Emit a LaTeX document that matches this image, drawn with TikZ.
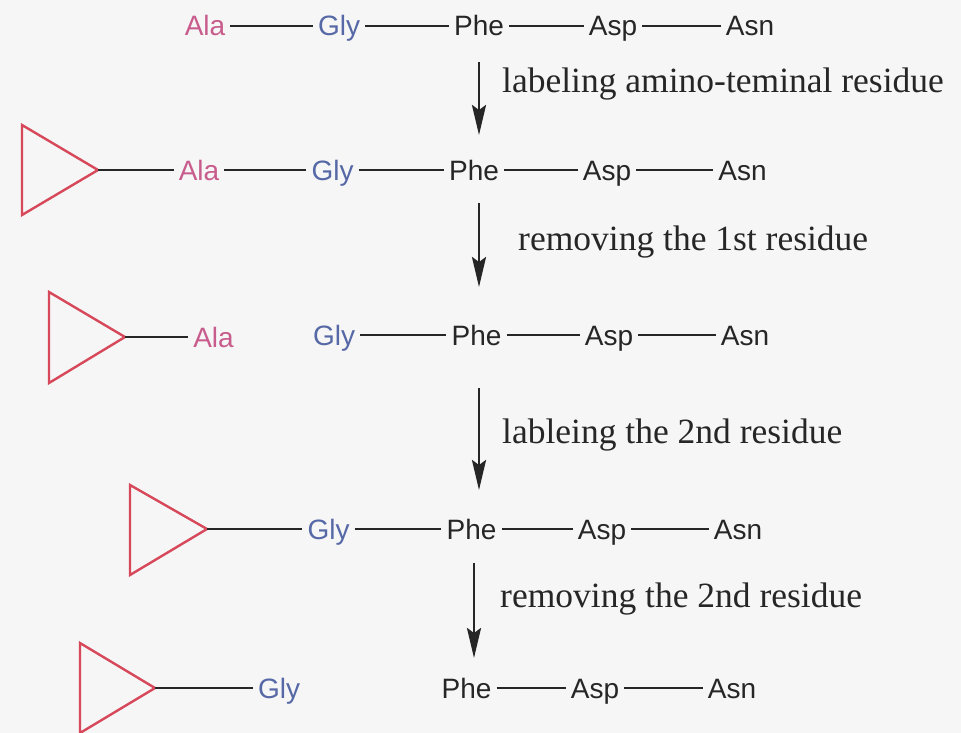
\documentclass[tikz,border=0pt]{standalone}
\usepackage{fontspec}
\setmainfont{Liberation Serif}
\newfontfamily\resfont{Liberation Sans}
\usetikzlibrary{arrows.meta}
\definecolor{bgcol}{RGB}{246,246,246}
\definecolor{alacol}{RGB}{200,92,140}
\definecolor{glycol}{RGB}{86,104,166}
\definecolor{inkcol}{RGB}{38,38,38}
\definecolor{tricol}{RGB}{214,72,90}
\begin{document}
\begin{tikzpicture}[x=1pt,y=-1pt,
  res/.style={font=\resfont\fontsize{28}{30}\selectfont, text=inkcol, inner xsep=5pt, inner ysep=0pt, text height=20pt, text depth=0pt},
  ala/.style={res, text=alacol},
  gly/.style={res, text=glycol},
  bond/.style={draw=inkcol, line width=2.8pt},
  tri/.style={draw=tricol, line width=2.4pt, line join=miter},
  rxn/.style={draw=inkcol, line width=2.8pt, -{Stealth[width=14pt,length=30pt,inset=5pt]}},
  lab/.style={font=\fontsize{35.5}{40}\selectfont, text=inkcol, anchor=base west, inner sep=0pt}]
\useasboundingbox (0,0) rectangle (961,733);
\fill[bgcol] (0,0) rectangle (961,733);

% Row 1
\node[ala] (a1) at (205,26) {Ala};
\node[gly] (g1) at (339,26) {Gly};
\node[res] (p1) at (479,26) {Phe};
\node[res] (s1) at (613,26) {Asp};
\node[res] (n1) at (750,26) {Asn};
\draw[bond] (a1) -- (g1);
\draw[bond] (g1) -- (p1);
\draw[bond] (p1) -- (s1);
\draw[bond] (s1) -- (n1);

\coordinate (u1) at (479,62);
\coordinate (v1) at (479,135);
\draw[rxn] (u1) -- (v1);
\node[lab] (l1) at (502,93) {labeling amino-teminal residue};

% Row 2
\draw[tri] (22,125) -- (98,170) coordinate (t2) -- (22,215) -- cycle;
\node[ala] (a2) at (199,170) {Ala};
\node[gly] (g2) at (332.5,170) {Gly};
\node[res] (p2) at (474,170) {Phe};
\node[res] (s2) at (607,170) {Asp};
\node[res] (n2) at (742.5,170) {Asn};
\draw[bond] (t2) -- (a2);
\draw[bond] (a2) -- (g2);
\draw[bond] (g2) -- (p2);
\draw[bond] (p2) -- (s2);
\draw[bond] (s2) -- (n2);

\coordinate (u2) at (479,203);
\coordinate (v2) at (479,287);
\draw[rxn] (u2) -- (v2);
\node[lab] (l2) at (518,250) {removing the 1st residue};

% Row 3
\draw[tri] (49,292) -- (125,337) coordinate (t3) -- (49,383) -- cycle;
\node[ala] (a3) at (213.5,337) {Ala};
\node[gly] (g3) at (334,335) {Gly};
\node[res] (p3) at (476.5,335) {Phe};
\node[res] (s3) at (609,335) {Asp};
\node[res] (n3) at (745,335) {Asn};
\draw[bond] (t3) -- (a3);
\draw[bond] (g3) -- (p3);
\draw[bond] (p3) -- (s3);
\draw[bond] (s3) -- (n3);

\coordinate (u3) at (479,388);
\coordinate (v3) at (479,490);
\draw[rxn] (u3) -- (v3);
\node[lab] (l3) at (502,443) {lableing the 2nd residue};

% Row 4
\draw[tri] (130,485) -- (207,529) coordinate (t4) -- (130,575) -- cycle;
\node[gly] (g4) at (328.5,529) {Gly};
\node[res] (p4) at (471.5,529) {Phe};
\node[res] (s4) at (602,529) {Asp};
\node[res] (n4) at (738,529) {Asn};
\draw[bond] (t4) -- (g4);
\draw[bond] (g4) -- (p4);
\draw[bond] (p4) -- (s4);
\draw[bond] (s4) -- (n4);

\coordinate (u4) at (474,563);
\coordinate (v4) at (474,658);
\draw[rxn] (u4) -- (v4);
\node[lab] (l4) at (500,607) {removing the 2nd residue};

% Row 5
\draw[tri] (80,643) -- (155,688) coordinate (t5) -- (80,733) -- cycle;
\node[gly] (g5) at (279,688) {Gly};
\node[res] (p5) at (466.5,688) {Phe};
\node[res] (s5) at (595,688) {Asp};
\node[res] (n5) at (732,688) {Asn};
\draw[bond] (t5) -- (g5);
\draw[bond] (p5) -- (s5);
\draw[bond] (s5) -- (n5);
\end{tikzpicture}
\end{document}
